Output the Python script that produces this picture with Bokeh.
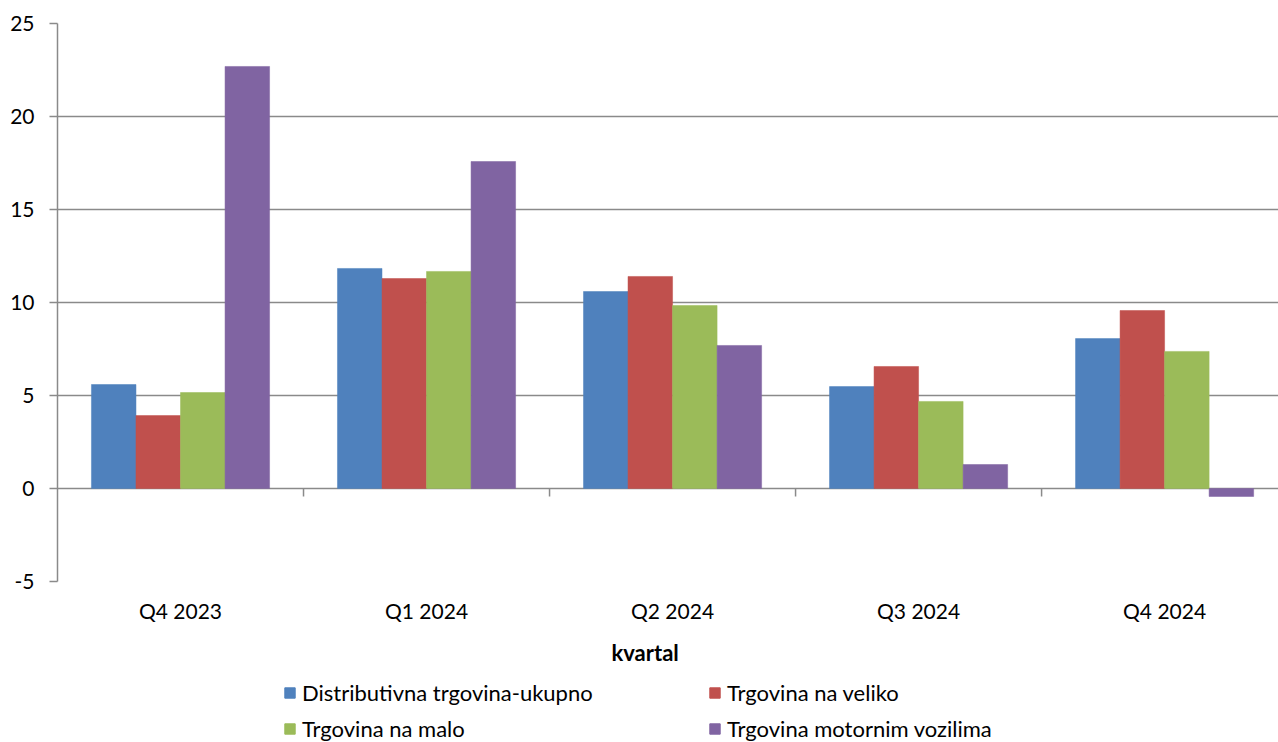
from bokeh.plotting import figure
from bokeh.layouts import column
from bokeh.models import (Range1d, FixedTicker, Legend, LegendItem, Title, ColumnDataSource)
from bokeh.embed import file_html
from bokeh.resources import INLINE

categories = ["Q4 2023", "Q1 2024", "Q2 2024", "Q3 2024", "Q4 2024"]
series_names = ["Distributivna trgovina-ukupno", "Trgovina na veliko",
                "Trgovina na malo", "Trgovina motornim vozilima"]
distributivna = [5.59, 11.83, 10.59, 5.48, 8.06]
veliko = [3.92, 11.29, 11.40, 6.56, 9.57]
malo = [5.16, 11.67, 9.84, 4.68, 7.37]
motorna = [22.69, 17.58, 7.69, 1.29, -0.43]
colors = ["#4F81BD", "#C0504D", "#9BBB59", "#8064A2"]
y_ticks = [-5, 0, 5, 10, 15, 20, 25]

FONT = "Lato"
GRID = "#8a8a8a"

p = figure(width=1278, height=678, output_backend="svg", toolbar_location=None,
           x_range=Range1d(0, 4.963), y_range=Range1d(-5, 25),
           min_border_top=23, min_border_left=57, min_border_right=0, min_border_bottom=97,
           outline_line_color=None)

bw = 0.181
sources = []
for k, (vals, col) in enumerate(zip([distributivna, veliko, malo, motorna], colors)):
    xs = [i + 0.5 + (k - 1.5) * bw for i in range(len(categories))]
    src = ColumnDataSource(dict(x=xs, top=vals))
    sources.append(src)
    p.vbar(x="x", top="top", bottom=0, width=bw, source=src,
           fill_color=col, line_color=col, line_width=0.5)

# category tick marks on the zero line
p.ray(x=[1, 2, 3, 4], y=[0, 0, 0, 0], length=8, length_units="screen",
      angle=-1.5707963, line_color=GRID, line_width=1.5)

# grid
p.xgrid.visible = False
p.ygrid.ticker = FixedTicker(ticks=y_ticks)
p.ygrid.grid_line_color = GRID
p.ygrid.grid_line_width = 1.5

# y axis
yax = p.yaxis[0]
yax.ticker = FixedTicker(ticks=y_ticks)
yax.major_label_overrides = {v: str(v) for v in y_ticks}
yax.axis_line_color = GRID
yax.axis_line_width = 1.5
yax.major_tick_line_color = GRID
yax.major_tick_line_width = 1.5
yax.major_tick_out = 8
yax.major_tick_in = 0
yax.minor_tick_line_color = None
yax.major_label_standoff = 15
yax.major_label_text_font = FONT
yax.major_label_text_font_size = "21px"
yax.major_label_text_color = "#000000"

# x axis
xax = p.xaxis[0]
xax.ticker = FixedTicker(ticks=[i + 0.5 for i in range(len(categories))])
xax.major_label_overrides = {i + 0.5: c for i, c in enumerate(categories)}
xax.axis_line_color = None
xax.major_tick_line_color = None
xax.minor_tick_line_color = None
xax.major_label_standoff = 10
xax.major_label_text_font = FONT
xax.major_label_text_font_size = "21px"
xax.major_label_text_color = "#000000"

t = Title(text="kvartal", align="left", offset=554, standoff=23,
          text_font=FONT, text_font_size="22px", text_font_style="bold",
          text_color="#000000")
p.add_layout(t, "below")

# legend strip (its bar renderers share the data but lie outside its view)
lg = figure(width=1278, height=64, output_backend="svg", toolbar_location=None,
            x_range=Range1d(1000, 1001), y_range=Range1d(1000, 1001),
            min_border_top=0, min_border_left=57, min_border_right=0, min_border_bottom=0,
            outline_line_color=None, x_axis_type=None, y_axis_type=None)
lg.xgrid.visible = False
lg.ygrid.visible = False
items = []
for name, col, src in zip(series_names, colors, sources):
    r = lg.vbar(x="x", top="top", bottom=0, width=bw, source=src,
                fill_color=col, line_color=col)
    items.append(LegendItem(label=name, renderers=[r]))
leg = Legend(items=items, orientation="horizontal", ncols=2,
             location=(226, 0), padding=0, margin=0, spacing=9,
             glyph_width=13, glyph_height=13, label_standoff=6,
             label_width=397, label_height=24,
             label_text_font=FONT, label_text_font_size="22px",
             label_text_color="#000000", border_line_color=None,
             background_fill_alpha=0)
lg.add_layout(leg, "center")

layout = column(p, lg, spacing=0)
open("out.html", "w").write(file_html(layout, INLINE))
